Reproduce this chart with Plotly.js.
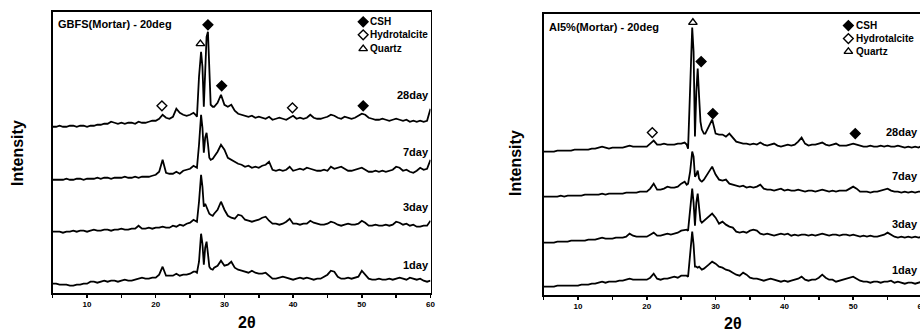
<!DOCTYPE html>
<html>
<head>
<meta charset="utf-8">
<script src="https://cdn.plot.ly/plotly-3.0.1.min.js"></script>
<style>html,body{margin:0;padding:0;overflow:hidden;background:#fff}#chart{width:935px;height:331px}</style>
</head>
<body>
<div id="chart"></div>
<script>
// 2-theta sampling (degrees)
const twoTheta = [
  5,5.5,6,6.5,7,7.5,8,8.5,9,9.5,
  10,10.5,11,11.5,12,12.5,13,13.5,14,14.5,
  15,15.5,16,16.5,17,17.5,18,18.5,19,19.5,
  20,20.5,21,21.5,22,22.5,23,23.5,24,24.5,25,25.5,
  25.8,26.0,26.3,26.6,26.8,27.0,27.2,27.4,27.6,27.8,28.0,28.3,
  28.5,29,29.5,30,30.5,31,31.5,32,32.5,33,
  33.5,34,34.5,35,35.5,36,36.5,37,37.5,38,
  38.5,39,39.5,40,40.5,41,41.5,42,42.5,43,
  43.5,44,44.5,45,45.5,46,46.5,47,47.5,48,
  48.5,49,49.5,50,50.5,51,51.5,52,52.5,53,
  53.5,54,54.5,55,55.5,56,56.5,57,57.5,58,
  58.5,59,59.5,60
];

const dayLabels = ['1day','3day','7day','28day'];

// GBFS (Mortar) - relative intensities
const gbfs1 = [
  0,0,-1,-1,-1,-2,-2,-1,-1,0,
  0,2,2,1,2,3,2,3,3,2,
  3,4,3,3,4,5,6,5,5,6,
  6,9,17,8,8,8,10,8,9,9,10,12,
  12,11,22,50,40,19,36,42,30,17,15,14,
  16,18,23,18,19,22,16,14,13,12,
  11,13,11,10,10,11,8,5,5,6,
  7,6,5,4,5,6,5,6,5,4,
  5,5,7,9,13,12,7,5,5,6,
  5,6,7,13,9,5,4,4,5,4,
  4,5,4,5,6,5,4,6,5,4,
  5,3,2,3
];
const gbfs3 = [
  0,0,0,-1,0,0,1,0,1,1,
  0,1,2,1,1,2,2,1,2,2,
  3,2,2,3,3,6,3,3,4,3,
  4,4,5,4,4,6,5,7,6,8,9,12,
  11,10,30,57,45,25,28,25,22,18,17,16,
  18,22,30,22,16,14,13,17,16,12,
  11,10,11,12,14,15,11,8,8,7,
  8,10,13,8,8,7,8,8,11,9,
  8,7,7,8,10,9,7,6,7,8,
  7,7,8,11,9,6,6,7,6,6,
  7,6,7,10,9,7,8,6,7,5,
  5,6,6,11
];
const gbfs7 = [
  0,0,0,0,1,0,0,1,1,0,
  1,1,1,2,1,2,2,1,2,2,
  2,3,2,2,3,2,3,3,3,4,
  5,8,20,7,6,6,8,6,9,10,11,14,
  13,12,35,65,52,27,42,47,36,22,20,21,
  23,28,35,30,22,20,18,16,15,13,
  14,12,13,12,14,15,18,10,9,10,
  9,10,13,9,10,11,10,12,11,10,
  9,9,10,9,13,11,12,13,11,9,
  9,10,11,12,10,8,8,9,8,9,
  8,9,10,13,12,9,10,8,7,9,
  12,10,11,20
];
const gbfs28 = [
  0,0,1,0,0,1,1,0,1,1,
  0,1,1,2,2,3,3,5,4,3,
  4,3,4,4,3,5,4,4,5,6,
  6,8,12,9,8,10,18,14,12,11,12,14,
  12,10,50,75,60,20,55,90,95,50,22,20,
  20,24,32,22,20,22,16,13,12,11,
  10,11,9,10,9,8,10,7,8,9,
  8,7,9,11,8,9,8,9,12,9,
  8,8,9,10,12,11,9,8,10,9,
  8,9,11,13,12,9,8,7,7,8,
  7,6,7,8,7,6,7,5,6,5,
  6,5,6,18
];
const gbfsOffsets = [9, 61, 113, 166];

// Al5% (Mortar) - relative intensities
const al51 = [
  0,0,0,0,1,1,1,1,1,1,
  1,2,2,2,3,3,4,5,4,5,
  5,5,6,6,7,8,7,7,7,7,
  7,9,13,8,7,8,8,9,10,9,11,11,
  11,10,30,55,42,20,20,19,20,18,17,18,
  19,22,25,23,20,19,17,16,14,12,
  11,14,12,9,8,8,7,6,7,8,
  7,6,5,6,5,6,7,8,10,7,
  6,7,7,9,12,9,7,7,5,6,
  7,8,9,10,8,6,5,5,4,5,
  5,4,5,5,6,4,5,4,3,4,
  4,3,4,5
];
const al53 = [
  0,0,0,0,1,1,1,1,2,2,
  2,2,2,3,3,3,4,5,4,4,
  4,5,5,5,6,9,7,6,6,6,
  6,8,10,7,7,8,9,8,9,10,12,13,
  13,12,35,54,40,17,40,49,35,22,20,22,
  23,26,29,25,19,21,18,16,15,11,
  10,11,10,12,13,12,9,8,9,8,
  7,8,9,8,9,7,8,7,8,8,
  7,8,7,8,9,8,7,8,8,7,
  8,8,7,8,7,6,7,6,7,6,
  6,7,8,10,8,6,5,6,5,6,
  5,6,5,6
];
const al57 = [
  0,0,0,0,0,1,0,1,1,1,
  1,1,2,2,2,2,2,3,2,3,
  3,3,3,3,4,4,4,4,5,5,
  5,8,13,7,7,8,10,9,9,10,13,15,
  12,13,25,45,40,20,22,26,18,16,15,17,
  19,25,30,22,17,16,17,13,12,11,
  10,11,9,10,9,10,12,8,7,7,
  6,7,8,6,7,6,6,7,6,5,
  6,6,5,6,7,6,5,6,5,6,
  6,6,8,10,8,5,5,5,4,5,
  5,6,7,8,6,5,5,4,5,4,
  5,4,5,5
];
const al528 = [
  0,0,0,0,1,1,1,1,1,2,
  2,2,2,2,3,3,4,5,4,3,
  4,4,4,4,5,6,5,5,5,5,
  5,8,11,7,7,8,7,7,7,8,8,9,
  7,3,60,124,100,15,60,83,55,30,22,18,
  18,25,32,18,17,17,15,18,14,10,
  9,8,8,7,8,7,9,7,6,7,
  8,6,5,6,7,6,7,10,14,8,
  6,7,7,8,9,7,6,7,8,6,
  6,6,7,8,7,6,5,5,6,5,
  5,6,5,6,5,5,6,5,4,5,
  4,5,4,6
];
const al5Offsets = [8, 52, 98, 143];

// Phase markers
const gbfsCshX = [27.6, 29.6, 50.2], gbfsCshY = [268, 207, 187];
const gbfsHydX = [20.9, 39.9],       gbfsHydY = [187, 185];
const gbfsQtzX = [26.5],             gbfsQtzY = [249];
const al5CshX  = [27.9, 29.6, 50.3], al5CshY  = [233, 181, 161];
const al5HydX  = [20.8],             al5HydY  = [162];
const al5QtzX  = [26.7],             al5QtzY  = [272];

const phaseNames = ['CSH', 'Hydrotalcite', 'Quartz'];
const panelTitles = ['GBFS(Mortar) - 20deg', 'Al5%(Mortar) - 20deg'];
const xTicks = [10, 20, 30, 40, 50, 60];

// ---------------------------------------------------------------
const FONT = 'Liberation Sans, Arial, Helvetica, sans-serif';
const INK = '#000';
const W = 935, H = 331;
const traces = [];
const B = t => '<b>' + t + '</b>';

function addPanel(series, offsets, xa, ya) {
  series.forEach((vals, i) => {
    traces.push({
      x: twoTheta, y: vals.map(v => v + offsets[i]),
      xaxis: xa, yaxis: ya, type: 'scatter', mode: 'lines',
      line: {color: INK, width: 1.8}, showlegend: false, hoverinfo: 'skip'
    });
  });
}
function addMarkers(x, y, symbol, xa, ya) {
  traces.push({
    x: x, y: y, xaxis: xa, yaxis: ya, type: 'scatter', mode: 'markers',
    marker: {symbol: symbol, size: 7.5, color: INK, line: {color: INK, width: 1.4}},
    showlegend: false, hoverinfo: 'skip', cliponaxis: false
  });
}

addPanel([gbfs1, gbfs3, gbfs7, gbfs28], gbfsOffsets, 'x', 'y');
addPanel([al51, al53, al57, al528], al5Offsets, 'x2', 'y2');
addMarkers(gbfsCshX, gbfsCshY, 'diamond', 'x', 'y');
addMarkers(gbfsHydX, gbfsHydY, 'diamond-open', 'x', 'y');
addMarkers(gbfsQtzX, gbfsQtzY, 'triangle-up-open', 'x', 'y');
addMarkers(al5CshX, al5CshY, 'diamond', 'x2', 'y2');
addMarkers(al5HydX, al5HydY, 'diamond-open', 'x2', 'y2');
addMarkers(al5QtzX, al5QtzY, 'triangle-up-open', 'x2', 'y2');

// manual legends
const legendSymbols = ['diamond', 'diamond-open', 'triangle-up-open'];
const legendLayout = [
  {xa: 'x', ya: 'y', mx: 50.2, tx: 50.9, ys: [271, 258, 244]},
  {xa: 'x2', ya: 'y2', mx: 49.3, tx: 50.1, ys: [269, 256, 243]}
];
const annotations = [];
legendLayout.forEach(L => {
  legendSymbols.forEach((s, i) => {
    addMarkers([L.mx], [L.ys[i]], s, L.xa, L.ya);
    annotations.push({xref: L.xa, yref: L.ya, x: L.tx, y: L.ys[i], text: B(phaseNames[i]),
      showarrow: false, xanchor: 'left', yanchor: 'middle',
      font: {family: FONT, size: 10, color: INK}});
  });
});

// day labels
const gbfsLabelY = [28, 86, 141, 198];
const al5LabelY = [25, 71, 119, 163];
dayLabels.forEach((d, i) => {
  annotations.push({xref: 'x', yref: 'y', x: 60, y: gbfsLabelY[i], text: B(d), showarrow: false,
    xanchor: 'right', yanchor: 'middle', font: {family: FONT, size: 11, color: INK}});
  annotations.push({xref: 'x2', yref: 'y2', x: 59.75, y: al5LabelY[i], text: B(d), showarrow: false,
    xanchor: 'right', yanchor: 'middle', font: {family: FONT, size: 11, color: INK}});
});

// panel titles
annotations.push({xref: 'x', yref: 'y', x: 5.5, y: 269, text: B(panelTitles[0]), showarrow: false,
  xanchor: 'left', yanchor: 'middle', font: {family: FONT, size: 11, color: INK}});
annotations.push({xref: 'x2', yref: 'y2', x: 5.5, y: 268, text: B(panelTitles[1]), showarrow: false,
  xanchor: 'left', yanchor: 'middle', font: {family: FONT, size: 11, color: INK}});

// axis titles
[[17, 153], [515, 163]].forEach(p => {
  annotations.push({xref: 'paper', yref: 'paper', x: p[0] / W, y: (H - p[1]) / H, text: B('Intensity'),
    textangle: -90, showarrow: false, xanchor: 'center', yanchor: 'middle',
    font: {family: FONT, size: 16, color: INK}});
});
[[247, 322], [733, 323]].forEach(p => {
  annotations.push({xref: 'paper', yref: 'paper', x: p[0] / W, y: (H - p[1]) / H, text: B('2θ'),
    showarrow: false, xanchor: 'center', yanchor: 'middle',
    font: {family: FONT, size: 16, color: INK}});
});

function xAxis(dom) {
  return {domain: dom, range: [5, 60], tickvals: xTicks, ticks: 'outside', ticklen: 3, tickwidth: 1.5,
    tickcolor: '#000', showline: true, linewidth: 2, linecolor: '#000', mirror: true,
    showgrid: false, zeroline: false, fixedrange: true, ticklabeloverflow: 'allow',
    tickfont: {family: FONT, size: 8, color: INK, weight: 'bold'},
    minor: {dtick: 5, tick0: 0, ticks: 'outside', ticklen: 3, tickwidth: 1.5, tickcolor: '#000', showgrid: false}};
}
function yAxis(dom) {
  return {domain: dom, range: [0, 280.5], showline: true, linewidth: 1.5, linecolor: '#000', mirror: true,
    showgrid: false, zeroline: false, ticks: '', showticklabels: false, fixedrange: true};
}

const layout = {
  width: W, height: H, margin: {l: 0, r: 0, t: 0, b: 0},
  paper_bgcolor: '#fff', plot_bgcolor: '#fff', showlegend: false,
  xaxis: xAxis([52.7 / W, 430.5 / W]),
  yaxis: yAxis([(H - 292.7) / H, (H - 12.3) / H]),
  xaxis2: Object.assign(xAxis([543.6 / W, 922 / W]), {anchor: 'y2'}),
  yaxis2: Object.assign(yAxis([(H - 294.7) / H, (H - 14) / H]), {anchor: 'x2'}),
  annotations: annotations
};
layout.xaxis.anchor = 'y';
layout.yaxis.anchor = 'x';

Plotly.newPlot('chart', traces, layout, {staticPlot: true, displayModeBar: false});
</script>
</body>
</html>
